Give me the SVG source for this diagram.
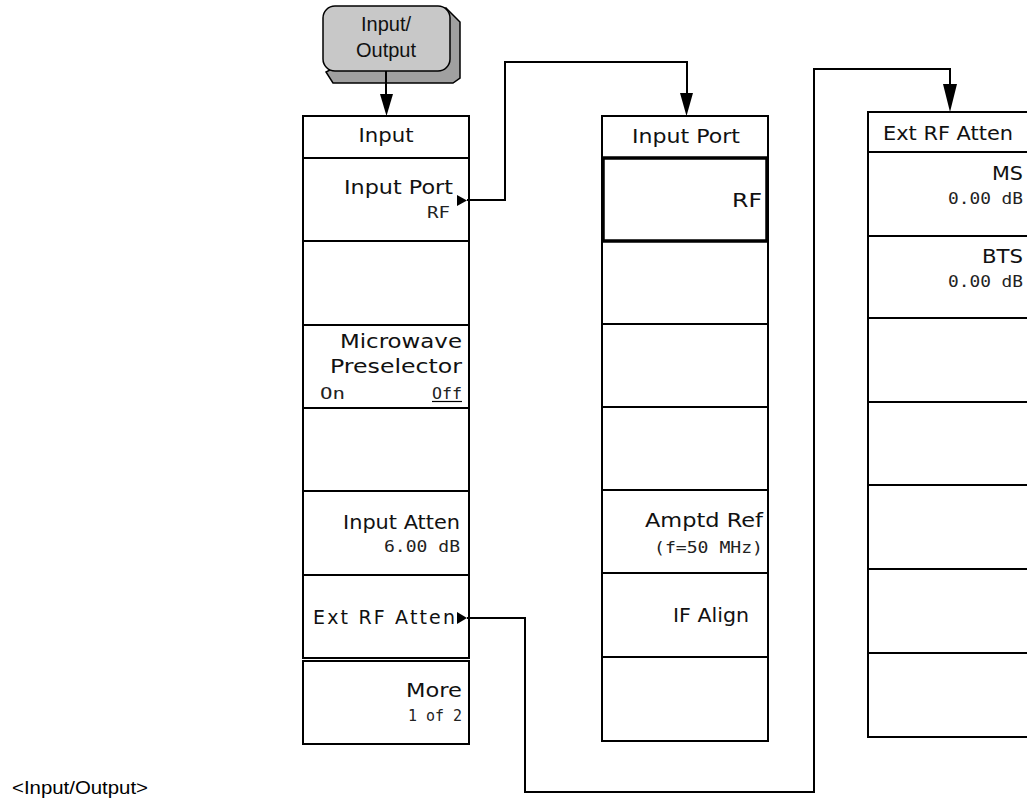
<svg xmlns="http://www.w3.org/2000/svg" width="1027" height="804" viewBox="0 0 1027 804">
<style>
.box{fill:#fff;stroke:#000;stroke-width:2}
.sep{stroke:#000;stroke-width:2}
.hl{fill:none;stroke:#000;stroke-width:3.5}
.conn{fill:none;stroke:#000;stroke-width:2}
.head{fill:#000}
.lbl{font-family:"DejaVu Sans",sans-serif;font-size:19px;fill:#111}
.val{font-family:"DejaVu Sans Mono",monospace;font-size:16px;fill:#222}
.key{font-family:"Liberation Sans",Arial,sans-serif;font-size:20px;fill:#111}
.cap{font-family:"Liberation Sans",Arial,sans-serif;font-size:19px;fill:#000}
</style>
<rect width="1027" height="804" fill="#fff"/>

<g id="key-input-output">
  <path d="M446,8 L460,22 L460,78 L453,83 L333,83 L326,72 Z" fill="#a0a0a0" stroke="#000" stroke-width="1.5"/>
  <rect x="323" y="6" width="127" height="65" rx="12" fill="#c8c8c8" stroke="#000" stroke-width="1.5"/>
  <text class="key" x="386" y="31" text-anchor="middle">Input/</text>
  <text class="key" x="386" y="57" text-anchor="middle">Output</text>
</g>

<g id="menu-input">
  <rect class="box" x="303" y="116" width="166" height="542"/>
  <line class="sep" x1="303" y1="158" x2="469" y2="158"/>
  <line class="sep" x1="303" y1="241" x2="469" y2="241"/>
  <line class="sep" x1="303" y1="325" x2="469" y2="325"/>
  <line class="sep" x1="303" y1="408" x2="469" y2="408"/>
  <line class="sep" x1="303" y1="491" x2="469" y2="491"/>
  <line class="sep" x1="303" y1="575" x2="469" y2="575"/>
  <rect class="box" x="303" y="661" width="166" height="83"/>
  <text class="lbl" x="386" y="142" text-anchor="middle" textLength="55" lengthAdjust="spacingAndGlyphs">Input</text>
  <text class="lbl" x="453" y="194" text-anchor="end" textLength="109" lengthAdjust="spacingAndGlyphs">Input Port</text>
  <text class="val" x="450" y="218" text-anchor="end" textLength="23" lengthAdjust="spacingAndGlyphs">RF</text>
  <text class="lbl" x="462" y="348" text-anchor="end" textLength="122" lengthAdjust="spacingAndGlyphs">Microwave</text>
  <text class="lbl" x="462" y="373" text-anchor="end" textLength="132" lengthAdjust="spacingAndGlyphs">Preselector</text>
  <text class="val" x="320" y="399" textLength="25" lengthAdjust="spacingAndGlyphs">On</text>
  <text class="val" x="462" y="399" text-anchor="end" textLength="30" lengthAdjust="spacingAndGlyphs">Off</text>
  <line x1="432" y1="401.5" x2="462" y2="401.5" stroke="#000" stroke-width="1.2"/>
  <text class="lbl" x="460" y="529" text-anchor="end" textLength="117" lengthAdjust="spacingAndGlyphs">Input Atten</text>
  <text class="val" x="460" y="552" text-anchor="end" textLength="76" lengthAdjust="spacingAndGlyphs">6.00 dB</text>
  <text class="lbl" x="313" y="624" textLength="142" lengthAdjust="spacing">Ext RF Atten</text>
  <text class="lbl" x="462" y="697" text-anchor="end" textLength="56" lengthAdjust="spacingAndGlyphs">More</text>
  <text class="val" x="462" y="721" text-anchor="end" textLength="54" lengthAdjust="spacingAndGlyphs">1 of 2</text>
</g>

<g id="menu-input-port">
  <rect class="box" x="602" y="116" width="166" height="625"/>
  <line class="sep" x1="602" y1="324" x2="768" y2="324"/>
  <line class="sep" x1="602" y1="407" x2="768" y2="407"/>
  <line class="sep" x1="602" y1="490" x2="768" y2="490"/>
  <line class="sep" x1="602" y1="573" x2="768" y2="573"/>
  <line class="sep" x1="602" y1="657" x2="768" y2="657"/>
  <rect class="hl" x="603" y="158" width="164" height="83"/>
  <text class="lbl" x="686" y="143" text-anchor="middle" textLength="108" lengthAdjust="spacingAndGlyphs">Input Port</text>
  <text class="lbl" x="762" y="207" text-anchor="end" textLength="30" lengthAdjust="spacingAndGlyphs">RF</text>
  <text class="lbl" x="763" y="527" text-anchor="end" textLength="118" lengthAdjust="spacingAndGlyphs">Amptd Ref</text>
  <text class="val" x="763" y="553" text-anchor="end" textLength="109" lengthAdjust="spacingAndGlyphs">(f=50 MHz)</text>
  <text class="lbl" x="749" y="622" text-anchor="end" textLength="76" lengthAdjust="spacingAndGlyphs">IF Align</text>
</g>

<g id="menu-ext-rf-atten">
  <rect class="box" x="868" y="112" width="166" height="625"/>
  <line class="sep" x1="868" y1="152" x2="1034" y2="152"/>
  <line class="sep" x1="868" y1="236" x2="1034" y2="236"/>
  <line class="sep" x1="868" y1="318" x2="1034" y2="318"/>
  <line class="sep" x1="868" y1="402" x2="1034" y2="402"/>
  <line class="sep" x1="868" y1="485" x2="1034" y2="485"/>
  <line class="sep" x1="868" y1="569" x2="1034" y2="569"/>
  <line class="sep" x1="868" y1="653" x2="1034" y2="653"/>
  <text class="lbl" x="883" y="140" textLength="130" lengthAdjust="spacingAndGlyphs">Ext RF Atten</text>
  <text class="lbl" x="1023" y="180" text-anchor="end" textLength="31" lengthAdjust="spacingAndGlyphs">MS</text>
  <text class="val" x="1023" y="204" text-anchor="end" textLength="75" lengthAdjust="spacingAndGlyphs">0.00 dB</text>
  <text class="lbl" x="1023" y="263" text-anchor="end" textLength="41" lengthAdjust="spacingAndGlyphs">BTS</text>
  <text class="val" x="1023" y="287" text-anchor="end" textLength="75" lengthAdjust="spacingAndGlyphs">0.00 dB</text>
</g>

<g id="connectors">
  <line class="conn" x1="386" y1="71" x2="386" y2="96"/>
  <polygon class="head" points="380,94 393,94 386.5,116"/>
  <polygon class="head" points="457,195 457,206 467,200.5"/>
  <polyline class="conn" points="467,200 505,200 505,62 687,62 687,95"/>
  <polygon class="head" points="680,93 693,93 686.5,116"/>
  <polygon class="head" points="457,612 457,624 467,618"/>
  <polyline class="conn" points="467,618 525,618 525,792 814,792 814,69 950,69 950,86"/>
  <polygon class="head" points="943,84 957,84 950,112"/>
</g>

<text class="cap" x="12" y="794" textLength="136" lengthAdjust="spacingAndGlyphs">&lt;Input/Output&gt;</text>
</svg>
